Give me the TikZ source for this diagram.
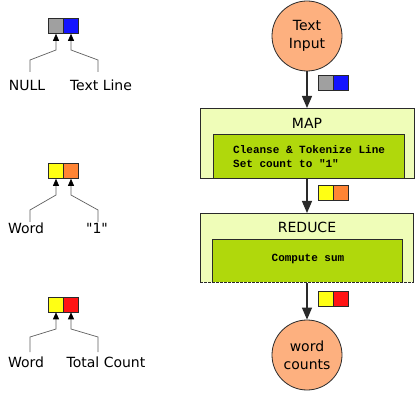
\documentclass[tikz,border=0pt]{standalone}
\usepackage{fontspec}
\setmainfont{DejaVu Sans}
\newfontfamily\codefont{Liberation Mono}
\usetikzlibrary{arrows.meta}
\definecolor{peach}{HTML}{FDB07F}
\definecolor{paleleaf}{HTML}{EFFDB8}
\definecolor{leaf}{HTML}{B0D80C}
\definecolor{kgrey}{HTML}{A0A0A0}
\definecolor{kblue}{HTML}{1414FF}
\definecolor{kyellow}{HTML}{FFFF14}
\definecolor{korange}{HTML}{FF8434}
\definecolor{kred}{HTML}{FF1414}
\definecolor{edge}{HTML}{2A2A2A}
\tikzset{
  io/.style={circle, draw=edge, line width=0.8pt, fill=peach, minimum size=70pt,
    inner sep=0pt, align=center, font=\fontsize{14}{18}\selectfont},
  stage/.style={draw=edge, line width=0.8pt, fill=paleleaf, anchor=north west,
    inner sep=0pt},
  task/.style={draw=edge, line width=0.8pt, fill=leaf, anchor=north west,
    inner sep=0pt},
  stagename/.style={font=\fontsize{14}{16}\selectfont, inner sep=0pt},
  code/.style={font=\codefont\bfseries\fontsize{11}{14}\selectfont, inner sep=0pt},
  cell/.style={draw=edge, line width=0.6pt, minimum width=15pt, minimum height=15pt,
    inner sep=0pt},
  field/.style={font=\fontsize{14}{16}\selectfont, inner sep=0pt},
  flow/.style={draw=edge, line width=1.3pt, -{Triangle[length=12pt,width=10pt]}},
  feed/.style={draw=gray!75!black, line width=0.7pt, -{Triangle[length=7pt,width=6pt,color=black]}},
}
\begin{document}
\begin{tikzpicture}[x=1pt,y=-1pt]
\useasboundingbox[fill=white] (0,0) rectangle (418,393);

% ---- pipeline ----
\node[io] (input) at (307,36) {Text\\Input};

\node[stage, minimum width=214pt, minimum height=70pt] (map) at (200,108) {};
\node[stagename] (mapname) at (307,123) {MAP};
\node[task, minimum width=191pt, minimum height=44pt] (mapjob) at (213,134) {};
\node[code, align=left, anchor=west] (mapcode) at (233,157)
  {Cleanse \& Tokenize Line\\Set count to \textquotedbl 1\textquotedbl};

\node[stage, minimum width=213pt, minimum height=69pt] (reduce) at (200,213) {};
\node[stagename] (reducename) at (307,227) {REDUCE};
\node[task, minimum width=190pt, minimum height=43pt] (reducejob) at (212,239) {};
\node[code] (reducecode) at (308,259) {Compute sum};
% the lower edge of the reduce stage is left open (dashed)
\draw[white, line width=1pt] (reduce.south west) -- (reduce.south east);
\draw[edge, line width=0.8pt, dash pattern=on 2.5pt off 1.5pt]
  (reduce.south west) -- (reduce.south east);

\node[io] (output) at (307,355) {word\\counts};

\draw[flow] (input) -- (map.north -| input);
\draw[flow] (map.south -| input) -- (reduce.north -| input);
\draw[flow] (reduce.south -| input) -- (output);

% key/value pairs travelling along the pipeline
\node[cell, fill=kgrey]   (k1) at (325.5,83) {};
\node[cell, fill=kblue]   (v1) at (340.5,83) {};
\node[cell, fill=kyellow] (k2) at (325.5,193) {};
\node[cell, fill=korange] (v2) at (340.5,193) {};
\node[cell, fill=kyellow] (k3) at (325.5,298.5) {};
\node[cell, fill=kred]    (v3) at (340.5,298.5) {};

% ---- legend ----
\node[cell, fill=kgrey]   (lk1) at (56,26) {};
\node[cell, fill=kblue]   (lv1) at (71,26) {};
\node[field] (null) at (27,85) {NULL};
\node[field] (line) at (101,85) {Text Line};
\coordinate (nullfoot) at (30,72);
\coordinate (linefoot) at (98,72);
\draw[feed] (nullfoot) -- (30,60) -- (56,50) -- (lk1.south);
\draw[feed] (linefoot) -- (98,60) -- (71,50) -- (lv1.south);

\node[cell, fill=kyellow] (lk2) at (56,171) {};
\node[cell, fill=korange] (lv2) at (71,171) {};
\node[field] (word) at (26,228) {Word};
\node[field] (one) at (97,228) {\textquotedbl 1\textquotedbl};
\coordinate (wordfoot) at (30,222);
\coordinate (onefoot) at (98,222);
\draw[feed] (wordfoot) -- (30,210) -- (56,195) -- (lk2.south);
\draw[feed] (onefoot) -- (98,210) -- (71,195) -- (lv2.south);

\node[cell, fill=kyellow] (lk3) at (56,304.5) {};
\node[cell, fill=kred]    (lv3) at (71,304.5) {};
\node[field] (word2) at (26,362) {Word};
\node[field] (total) at (106,362) {Total Count};
\coordinate (word2foot) at (30,352);
\coordinate (totalfoot) at (98,352);
\draw[feed] (word2foot) -- (30,337) -- (56,329) -- (lk3.south);
\draw[feed] (totalfoot) -- (98,337) -- (71,329) -- (lv3.south);
\end{tikzpicture}
\end{document}
